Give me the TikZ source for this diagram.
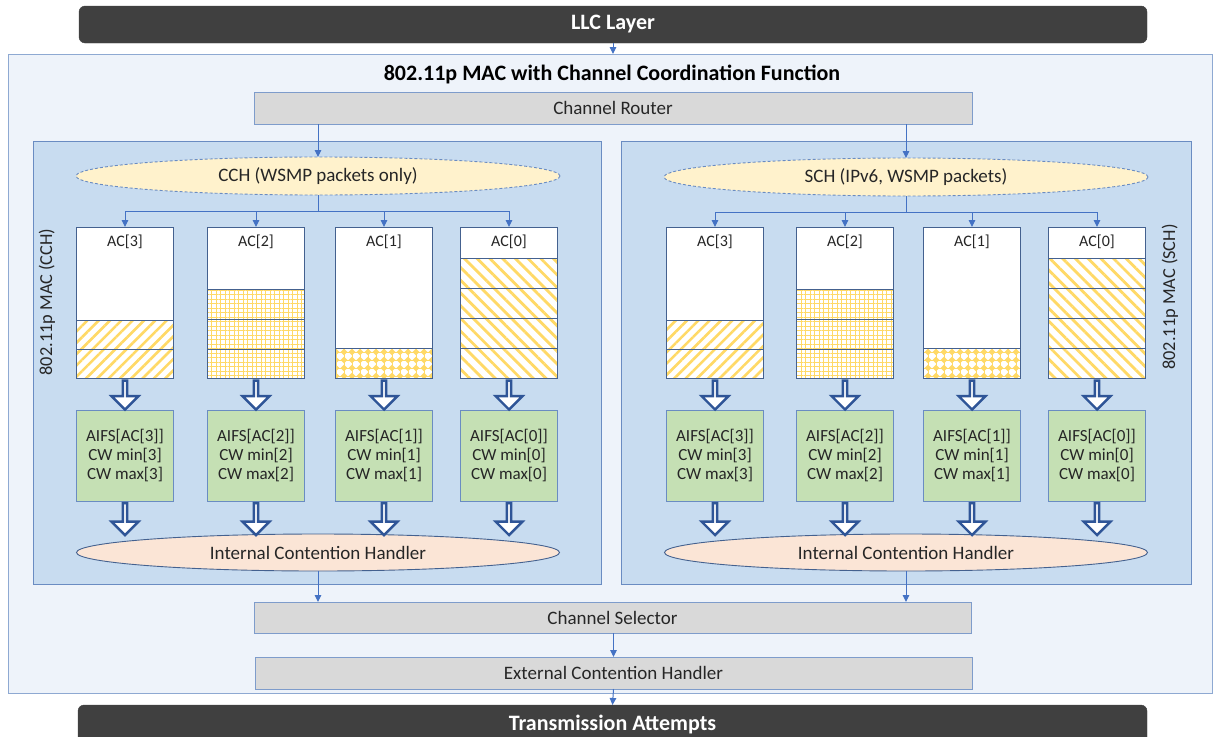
\documentclass[tikz,border=0pt]{standalone}
\usepackage{fontspec}
\setmainfont{Carlito}
\usetikzlibrary{arrows.meta,shapes.geometric,shapes.arrows,patterns.meta,calc}
\definecolor{darkbg}{HTML}{404040}
\definecolor{outerfill}{HTML}{EEF3FA}
\definecolor{outerline}{HTML}{8EA9D2}
\definecolor{macfill}{HTML}{C8DCF0}
\definecolor{macline}{HTML}{6A8CC2}
\definecolor{grayfill}{HTML}{D9D9D9}
\definecolor{grayline}{HTML}{7E9CCB}
\definecolor{yellfill}{HTML}{FFF2CC}
\definecolor{peach}{HTML}{FBE5D6}
\definecolor{greenfill}{HTML}{C5E0B4}
\definecolor{qline}{HTML}{44618F}
\definecolor{hollowline}{HTML}{2F5597}
\definecolor{connblue}{HTML}{4472C4}
\definecolor{gold}{HTML}{FFD966}
\tikzdeclarepattern{
  name=MyDiamonds,
  type=uncolored,
  bounding box={(-4pt,-4pt) and (4pt,4pt)},
  tile size={(8pt,8pt)},
  code={
    \fill (0,-3.3pt) -- (3.3pt,0) -- (0,3.3pt) -- (-3.3pt,0) -- cycle;
    \draw[line width=0.7pt] (-4pt,0) -- (4pt,0) (0,-4pt) -- (0,4pt);
  }
}
\begin{document}
\begin{tikzpicture}[x=1pt,y=-1pt,
  darkbox/.style={rectangle, rounded corners=6pt, fill=darkbg, draw=darkbg, text=white,
    font=\bfseries\fontsize{22}{24}\selectfont, inner sep=0pt, outer sep=0pt},
  outerbox/.style={rectangle, fill=outerfill, draw=outerline, line width=1pt, inner sep=0pt, outer sep=0pt},
  macbox/.style={rectangle, fill=macfill, draw=macline, line width=1pt, inner sep=0pt, outer sep=0pt},
  graybox/.style={rectangle, fill=grayfill, draw=grayline, line width=1pt, inner sep=0pt, outer sep=0pt,
    font=\fontsize{19}{22}\selectfont, text=black!85},
  cchell/.style={ellipse, fill=yellfill, draw=macline, dash pattern=on 3pt off 2pt, line width=0.9pt, inner sep=0pt, outer sep=0pt,
    minimum width=484pt, minimum height=38pt, font=\fontsize{19}{22}\selectfont, text=black!85},
  ichell/.style={ellipse, fill=peach, draw=qline, line width=0.9pt, inner sep=0pt, outer sep=0pt,
    minimum width=483pt, minimum height=37pt, font=\fontsize{19}{22}\selectfont, text=black!85},
  queue/.style={rectangle, fill=white, draw=qline, line width=1pt, inner sep=0pt, outer sep=0pt,
    minimum width=97pt, minimum height=151pt},
  qlabel/.style={font=\fontsize{16}{18}\selectfont, text=black!85, inner sep=0pt},
  param/.style={rectangle, fill=greenfill, draw=macline, line width=1pt, inner sep=0pt, outer sep=0pt,
    minimum width=97pt, minimum height=91pt, align=center, font=\fontsize{17}{19}\selectfont, text=black!85},
  hollow/.style={single arrow, draw=hollowline, fill=white, line width=2.4pt, inner sep=0pt, outer sep=0pt,
    minimum width=27pt, single arrow head extend=6.5pt, single arrow tip angle=90, shape border rotate=270},
  conn/.style={draw=connblue, line width=1pt, -{Triangle[width=6.5pt,length=7pt]}},
  cline/.style={draw=connblue, line width=1pt},
  sep/.style={draw=qline, line width=1pt},
  patA/.style={pattern={Lines[angle=45,distance=8pt,line width=2.6pt]}, pattern color=gold},
  patB/.style={pattern={Hatch[angle=0,distance=4.5pt,line width=1pt]}, pattern color=gold},
  patC/.style={pattern=MyDiamonds, pattern color=gold},
  patD/.style={pattern={Lines[angle=-45,distance=9pt,line width=2.8pt]}, pattern color=gold},
  sidelab/.style={font=\fontsize{18.3}{20}\selectfont, text=black!85, rotate=90, inner sep=0pt},
]
\clip (0,0) rectangle (1214,736);
\fill[white] (0,0) rectangle (1214,736);

% outer MAC frame
\node[outerbox, anchor=north west, minimum width=1204pt, minimum height=639pt] (mac) at (8,54) {};
\node[darkbox, minimum width=1068pt, minimum height=37pt] (llc) at (613,24.5) {LLC Layer};
\draw[conn] (llc.south) -- (llc.south |- mac.north);

\node[font=\bfseries\fontsize{22}{24}\selectfont, inner sep=0pt] (title) at (612,74) {802.11p MAC with Channel Coordination Function};
\node[graybox, minimum width=718pt, minimum height=32pt] (router) at (613,108) {Channel Router};

% two MAC boxes
\node[macbox, anchor=north west, minimum width=568pt, minimum height=443pt] (macL) at (33,141) {};
\node[macbox, anchor=north west, minimum width=570pt, minimum height=443pt] (macR) at (621,141) {};
\node[sidelab] (labL) at (47,302) {802.11p MAC (CCH)};
\node[sidelab] (labR) at (1170,297) {802.11p MAC (SCH)};

\node[cchell] (chL) at (318,176) {CCH (WSMP packets only)};
\node[cchell] (chR) at (906,177) {SCH (IPv6, WSMP packets)};
\draw[conn] (router.south -| chL.north) -- (chL.north);
\draw[conn] (router.south -| chR.north) -- (chR.north);

\foreach \xa/\xb/\xc/\xd/\s in {125/256/384/509/L, 715/845/972/1097/R}{
  % queues
  \node[queue] (q\s3) at (\xa,302.5) {};
  \node[queue] (q\s2) at (\xb,302.5) {};
  \node[queue] (q\s1) at (\xc,302.5) {};
  \node[queue] (q\s0) at (\xd,302.5) {};
  \fill[patA] (\xa-48.5,320) rectangle (\xa+48.5,378);
  \fill[patB] (\xb-48.5,289) rectangle (\xb+48.5,378);
  \fill[patC] (\xc-48.5,348) rectangle (\xc+48.5,378);
  \fill[patD] (\xd-48.5,258) rectangle (\xd+48.5,378);
  \draw[sep] (\xa-48.5,320) -- ++(97,0) (\xa-48.5,349) -- ++(97,0);
  \draw[sep] (\xb-48.5,289) -- ++(97,0) (\xb-48.5,319) -- ++(97,0) (\xb-48.5,349) -- ++(97,0);
  \draw[sep] (\xc-48.5,348) -- ++(97,0);
  \draw[sep] (\xd-48.5,258) -- ++(97,0) (\xd-48.5,288) -- ++(97,0) (\xd-48.5,318) -- ++(97,0) (\xd-48.5,348) -- ++(97,0);
  \foreach \k in {3,2,1,0}{
    \draw[sep] (q\s\k.north west) rectangle (q\s\k.south east);
    \node[qlabel] at ($(q\s\k.north)+(0,15)$) {AC[\k]};
  }
  % branch from channel ellipse
  \coordinate (b\s) at ($(ch\s.south)+(0,16)$);
  \draw[cline] (ch\s.south) -- (b\s);
  \foreach \k in {3,2,1,0}{
    \draw[conn] (b\s) -| (q\s\k.north);
  }
  % parameter boxes
  \node[param] (p\s3) at (\xa,455.5) {AIFS[AC[3]]\\CW min[3]\\CW max[3]};
  \node[param] (p\s2) at (\xb,455.5) {AIFS[AC[2]]\\CW min[2]\\CW max[2]};
  \node[param] (p\s1) at (\xc,455.5) {AIFS[AC[1]]\\CW min[1]\\CW max[1]};
  \node[param] (p\s0) at (\xd,455.5) {AIFS[AC[0]]\\CW min[0]\\CW max[0]};
}
\node[ichell] (ichL) at (318,552.5) {Internal Contention Handler};
\node[ichell] (ichR) at (906,552.5) {Internal Contention Handler};
\foreach \s in {L,R}{
  \foreach \k in {3,2,1,0}{
    \node[hollow, minimum height=29pt] (ha\s\k) at ($(q\s\k.south)!0.5!(p\s\k.north)$) {};
    \node[hollow, minimum height=32pt] (hb\s\k) at ($(p\s\k.south)+(0,17)$) {};
  }
}

% bottom part
\node[graybox, minimum width=717pt, minimum height=31pt] (sel) at (612.5,617.5) {Channel Selector};
\node[graybox, minimum width=717pt, minimum height=32pt] (ech) at (613.5,673) {External Contention Handler};
\draw[conn] (ichL.south) -- (ichL.south |- sel.north);
\draw[conn] (ichR.south) -- (ichR.south |- sel.north);
\draw[conn] (sel.south -| ech.north) -- (ech.north);
\node[darkbox, anchor=north, minimum width=1069pt, minimum height=38pt] (tx) at (612.5,705) {Transmission Attempts};
\draw[conn] (ech.south) -- (tx.north);
\end{tikzpicture}
\end{document}
